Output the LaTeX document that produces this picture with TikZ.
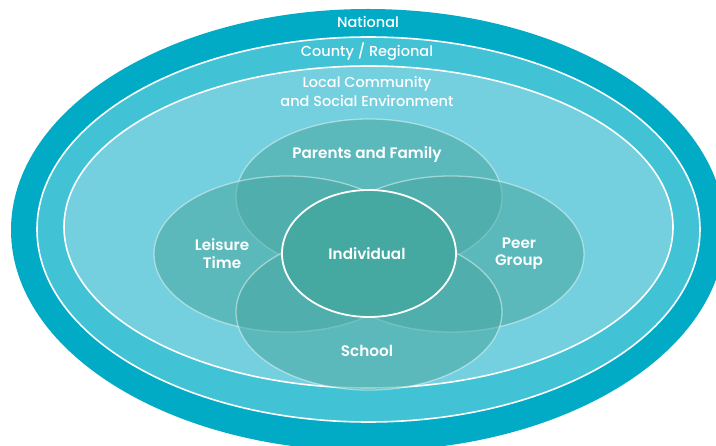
\documentclass[tikz,border=0pt]{standalone}
\usepackage{fontspec}
\setmainfont{Poppins}[UprightFont={* Medium}, BoldFont={* SemiBold}]
\definecolor{national}{HTML}{02ABC5}
\definecolor{county}{HTML}{41C3D5}
\definecolor{local}{HTML}{74CFDE}
\definecolor{petal}{HTML}{48A8A0}
\definecolor{core}{HTML}{45A9A1}
\tikzset{
  ring/.style={draw=white, line width=1.6pt},
  petalshape/.style={fill=petal, fill opacity=0.55, draw=white, draw opacity=0.45, line width=1.3pt},
  label/.style={text=white, font=\fontsize{14.5}{18.5}\selectfont, align=center, inner sep=0pt},
  innerlabel/.style={label, font=\fontsize{15.2}{17.5}\selectfont\bfseries},
}
\begin{document}
\begin{tikzpicture}[x=1pt, y=-1pt]
  \useasboundingbox (0,0) rectangle (716,446);
  \clip (0,0) rectangle (716,446);
  % nested levels of the environment
  \fill[national] (368,230) ellipse [x radius=357pt, y radius=221pt];
  \fill[county, ring] (368.5,229.5) ellipse [x radius=331.5pt, y radius=192.5pt];
  \fill[local, ring] (368.5,227) ellipse [x radius=304.5pt, y radius=161pt];
  % four overlapping spheres of influence
  \path[petalshape] (369,197) ellipse [x radius=133pt, y radius=78pt];
  \path[petalshape] (287,254) ellipse [x radius=133pt, y radius=78pt];
  \path[petalshape] (451,254) ellipse [x radius=133pt, y radius=78pt];
  \path[petalshape] (369,312) ellipse [x radius=133pt, y radius=78pt];
  % the individual at the centre
  \path[fill=core, draw=white, line width=1.8pt] (369,253.5) ellipse [x radius=87pt, y radius=63.5pt];
  % labels
  \node[label] (national) at (368,22) {National};
  \node[label] (county) at (367,52) {County / Regional};
  \node[label] (local) at (367,91.5) {Local Community\\and Social Environment};
  \node[innerlabel] (family) at (367,155) {Parents and Family};
  \node[innerlabel] (leisure) at (222,253.5) {Leisure\\Time};
  \node[innerlabel] (individual) at (367,254) {Individual};
  \node[innerlabel] (peer) at (519,253.5) {Peer\\Group};
  \node[innerlabel] (school) at (367,351) {School};
\end{tikzpicture}
\end{document}
